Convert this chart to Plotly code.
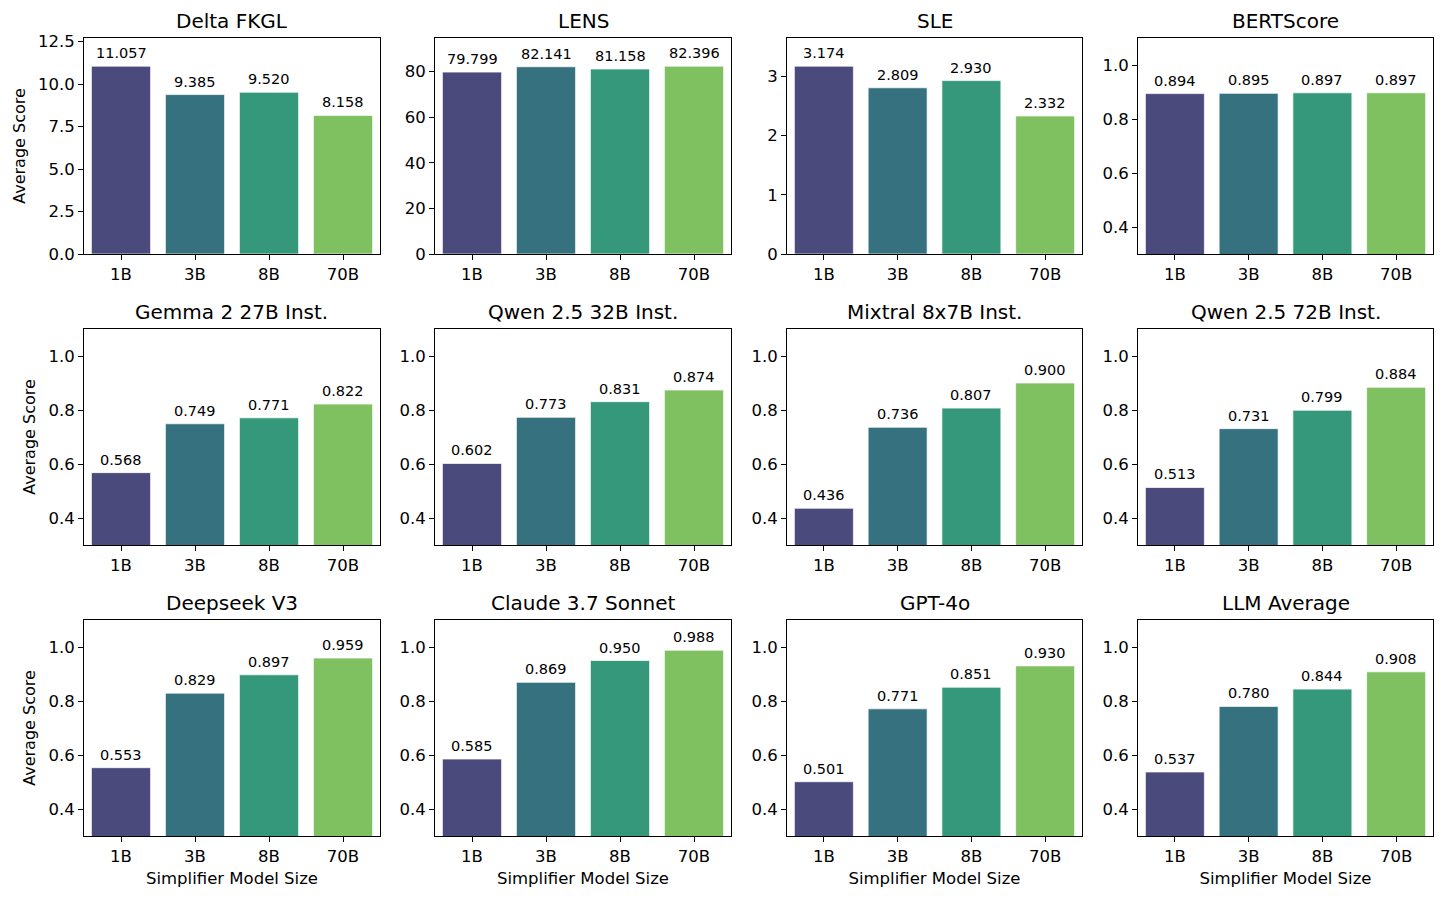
import plotly.graph_objects as go

W, H = 1445, 899

categories = ["1B", "3B", "8B", "70B"]
titles = ["Delta FKGL", "LENS", "SLE", "BERTScore",
          "Gemma 2 27B Inst.", "Qwen 2.5 32B Inst.", "Mixtral 8x7B Inst.", "Qwen 2.5 72B Inst.",
          "Deepseek V3", "Claude 3.7 Sonnet", "GPT-4o", "LLM Average"]

delta_fkgl = [11.057, 9.385, 9.520, 8.158]
lens = [79.799, 82.141, 81.158, 82.396]
sle = [3.174, 2.809, 2.930, 2.332]
bertscore = [0.894, 0.895, 0.897, 0.897]
gemma = [0.568, 0.749, 0.771, 0.822]
qwen32 = [0.602, 0.773, 0.831, 0.874]
mixtral = [0.436, 0.736, 0.807, 0.900]
qwen72 = [0.513, 0.731, 0.799, 0.884]
deepseek = [0.553, 0.829, 0.897, 0.959]
claude = [0.585, 0.869, 0.950, 0.988]
gpt4o = [0.501, 0.771, 0.851, 0.930]
llm_avg = [0.537, 0.780, 0.844, 0.908]

series = [delta_fkgl, lens, sle, bertscore, gemma, qwen32, mixtral, qwen72,
          deepseek, claude, gpt4o, llm_avg]

colors = ["#4a4b7c", "#367180", "#35987a", "#7fc160"]

# axis pixel boxes
col_px = [(84, 380), (435, 731), (787, 1082), (1138, 1433)]
row_px = [(38, 254), (329, 545), (620, 836)]

font_family = "DejaVu Sans, Verdana, sans-serif"
TICK = 16.5
fig = go.Figure()
annotations = []

for i, (vals, title) in enumerate(zip(series, titles)):
    r, c = divmod(i, 4)
    n = i + 1
    xa = "x" if n == 1 else f"x{n}"
    ya = "y" if n == 1 else f"y{n}"
    fig.add_trace(go.Bar(
        x=categories, y=vals, xaxis=xa, yaxis=ya,
        marker=dict(color=colors, line=dict(color="rgba(255,255,255,0.7)", width=1)),
        width=0.8, showlegend=False, hoverinfo="skip",
    ))
    for cat, v in zip(categories, vals):
        annotations.append(dict(text=f"{v:.3f}", x=cat, y=v, xref=xa, yref=ya,
                                xanchor="center", yanchor="bottom", yshift=3,
                                showarrow=False,
                                font=dict(size=14.5, color="black", family=font_family)))
    x0, x1 = col_px[c]
    y0, y1 = row_px[r]
    xdom = [x0 / W, x1 / W]
    ydom = [1 - y1 / H, 1 - y0 / H]
    if i < 3:
        yr = [0, max(vals) * 1.15]
        if i == 0:
            tickvals = [0, 2.5, 5, 7.5, 10, 12.5]
            ticktext = [f"{t:.1f}" for t in tickvals]
        elif i == 1:
            tickvals = [0, 20, 40, 60, 80]
            ticktext = [str(t) for t in tickvals]
        else:
            tickvals = [0, 1, 2, 3]
            ticktext = [str(t) for t in tickvals]
    else:
        yr = [0.3, 1.1]
        tickvals = [0.4, 0.6, 0.8, 1.0]
        ticktext = [f"{t:.1f}" for t in tickvals]
    axcommon = dict(showline=True, linecolor="black", linewidth=1, mirror=True,
                    ticks="outside", ticklen=5, tickwidth=1, tickcolor="black",
                    showgrid=False, zeroline=False, automargin=False,
                    tickfont=dict(size=TICK, color="black", family=font_family))
    xkey = "xaxis" if n == 1 else f"xaxis{n}"
    ykey = "yaxis" if n == 1 else f"yaxis{n}"
    xtitle = dict(text="Simplifier Model Size", font=dict(size=16.5, color="black", family=font_family), standoff=7) if r == 2 else None
    ytitle = dict(text="Average Score", font=dict(size=16, color="black", family=font_family), standoff=8) if c == 0 else None
    fig.update_layout(**{
        xkey: dict(domain=xdom, anchor=ya, range=[-0.5, 3.5], type="category",
                   categoryorder="array", categoryarray=categories,
                   title=xtitle, **axcommon),
        ykey: dict(domain=ydom, anchor=xa, range=yr, tickvals=tickvals, ticktext=ticktext,
                   title=ytitle, **axcommon),
    })
    annotations.append(dict(text=title, x=(x0 + x1) / 2 / W, y=1 - (y0 - 3) / H,
                            xref="paper", yref="paper", xanchor="center", yanchor="bottom",
                            showarrow=False, font=dict(size=20, color="black", family=font_family)))

fig.update_layout(width=W, height=H, margin=dict(l=0, r=0, t=0, b=0, autoexpand=False),
                  paper_bgcolor="white", plot_bgcolor="white",
                  annotations=annotations, bargap=0.2,
                  font=dict(family=font_family, color="black"))

fig.write_html("out.html", config={"displayModeBar": False},
               post_script="document.body.style.margin='0';document.body.style.overflow='hidden';")
